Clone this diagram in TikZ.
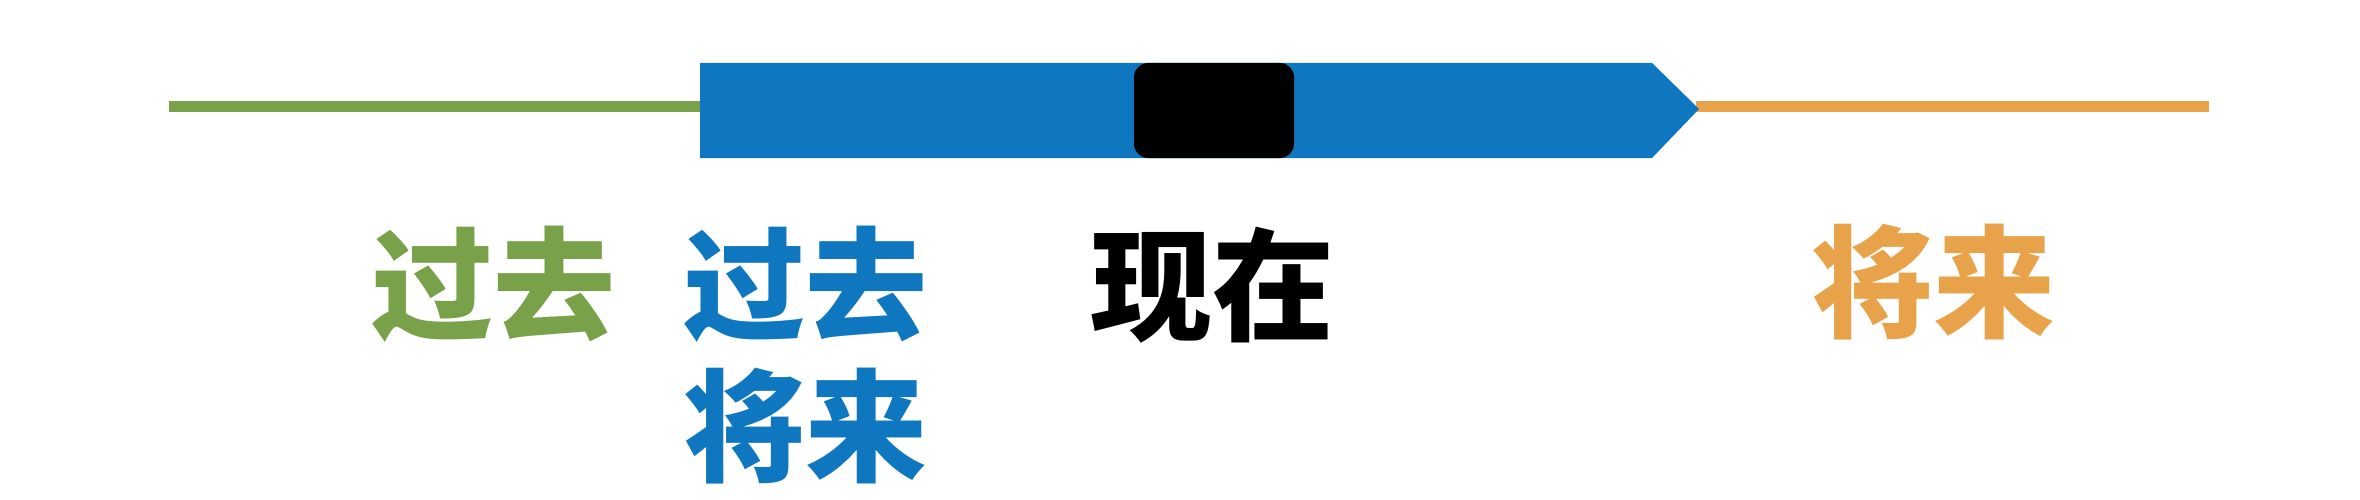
\documentclass[tikz,border=0pt]{standalone}
\usepackage{fontspec}
\newfontfamily\cjk{Noto Sans CJK SC}
\definecolor{pastgreen}{HTML}{78A14A}
\definecolor{nowblue}{HTML}{0E77C0}
\definecolor{futorange}{HTML}{E8A24A}
\tikzset{
  lbl/.style={inner sep=0pt, anchor=base, font=\cjk\bfseries\fontsize{122}{130}\selectfont},
  tline/.style={line width=11.5pt},
}
\begin{document}
\begin{tikzpicture}[x=1pt,y=-1pt]
\useasboundingbox (0,0) rectangle (2360,500);
\coordinate (gs) at (169,106.5);
\coordinate (ge) at (702,106.5);
\coordinate (os) at (1696,106.5);
\coordinate (oe) at (2209,106.5);
\draw[tline, pastgreen] (gs) -- (ge);
\draw[tline, futorange] (os) -- (oe);
\fill[nowblue] (700,63) -- (1652,63) -- (1699,109) -- (1652,158) -- (700,158) -- cycle;
\fill[black, rounded corners=14pt] (1134,63) rectangle (1294,158);
\node[lbl, text=pastgreen] (past) at (493,330) {过去};
\node[lbl, text=nowblue] (both1) at (805,330) {过去};
\node[lbl, text=nowblue] (both2) at (805,472) {将来};
\node[lbl, text=black] (now) at (1212,331) {现在};
\node[lbl, text=futorange] (fut) at (1933,328) {将来};
\end{tikzpicture}
\end{document}
